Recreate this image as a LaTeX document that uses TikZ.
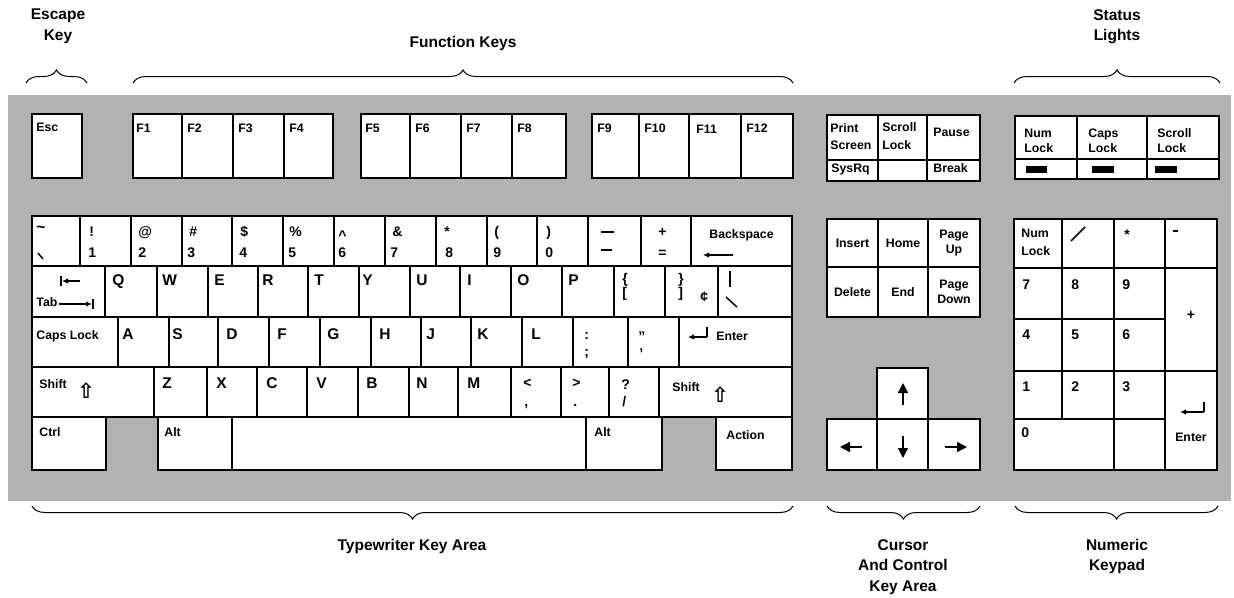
\documentclass[tikz,border=0pt]{standalone}
\usepackage{fontspec}
\setmainfont{Liberation Sans}
\newfontfamily\symf{DejaVu Sans}
\usetikzlibrary{fit,calc,arrows.meta,decorations.pathreplacing}
\newcounter{lblnum}
\newcommand\mkkey[5]{\node[key, fit={(#2,#3) (#4,#5)}] (#1) {};}
\newcommand\mklbl[5][lbls]{\stepcounter{lblnum}\node[#1, anchor=base west] (l\arabic{lblnum}) at ($(#2.north west)+(#3,#4)$) {#5};}
\newcommand\mkctr[4][lbls]{\stepcounter{lblnum}\node[#1, align=center] (l\arabic{lblnum}) at ($(#2.center)+(#3)$) {#4};}
\begin{document}
\begin{tikzpicture}[x=1pt,y=-1pt,
 key/.style={draw=black,line width=1.6pt,fill=white,inner sep=0pt},
 led/.style={fill=black,inner sep=0pt},
 lbls/.style={font=\bfseries\fontsize{12.3}{15}\selectfont,inner sep=0pt},
 lblm/.style={font=\bfseries\fontsize{14}{14}\selectfont,inner sep=0pt},
 lblb/.style={font=\bfseries\fontsize{15.5}{16}\selectfont,inner sep=0pt},
 shiftsym/.style={font=\symf\bfseries\fontsize{21}{21}\selectfont,inner sep=0pt},
 hdr/.style={font=\bfseries\fontsize{15.5}{20.5}\selectfont,align=center,inner sep=0pt},
 brc/.style={decorate,decoration={brace,amplitude=13pt},line width=1pt},
 glyph/.style={line width=1.5pt},
 arr/.style={line width=1.5pt,-{Latex[length=6pt,width=5.5pt]}},
 bigarr/.style={line width=1.4pt,-{Triangle[length=10pt,width=10pt]}},
]
\useasboundingbox (0,0) rectangle (1234,597);
\fill[white] (0,0) rectangle (1234,597);
\node[fill=black!30, inner sep=0pt, fit={(8,95) (1231,501)}] (frame) {};

% ---------- top row ----------
\mkkey{esc}{32}{114}{82}{178}
\mkkey{f1}{133}{114}{182}{178}\mkkey{f2}{182}{114}{233}{178}\mkkey{f3}{233}{114}{284}{178}\mkkey{f4}{284}{114}{333}{178}
\mkkey{f5}{361}{114}{410}{178}\mkkey{f6}{410}{114}{461}{178}\mkkey{f7}{461}{114}{512}{178}\mkkey{f8}{512}{114}{566}{178}
\mkkey{f9}{592}{114}{639}{178}\mkkey{f10}{639}{114}{689}{178}\mkkey{f11}{689}{114}{741}{178}\mkkey{f12}{741}{114}{793}{178}
\mklbl{esc}{5}{18}{Esc}
\mklbl{f1}{4}{19}{F1}\mklbl{f2}{6}{19}{F2}\mklbl{f3}{6}{19}{F3}\mklbl{f4}{6}{19}{F4}
\mklbl{f5}{5}{19}{F5}\mklbl{f6}{6}{19}{F6}\mklbl{f7}{6}{19}{F7}\mklbl{f8}{6}{19}{F8}
\mklbl{f9}{6}{19}{F9}\mklbl{f10}{6}{19}{F10}\mklbl{f11}{8}{20}{F11}\mklbl{f12}{6}{19}{F12}

% print screen block
\mkkey{prt}{827}{115}{878}{160}\mkkey{scr}{878}{115}{927}{160}\mkkey{pau}{927}{115}{980}{160}
\mkkey{sys}{827}{160}{878}{181}\mkkey{blk}{878}{160}{927}{181}\mkkey{brk}{927}{160}{980}{181}
\mklbl{prt}{4}{18}{Print}\mklbl{prt}{4}{35}{Screen}
\mklbl{scr}{5}{17}{Scroll}\mklbl{scr}{5}{35}{Lock}
\mklbl{pau}{7}{22}{Pause}
\mklbl{sys}{5}{13}{SysRq}\mklbl{brk}{7}{13}{Break}

% status lights
\mkkey{sl1}{1015}{116}{1077}{159}\mkkey{sl2}{1077}{116}{1147}{159}\mkkey{sl3}{1147}{116}{1219}{159}
\mkkey{sl4}{1015}{159}{1077}{179}\mkkey{sl5}{1077}{159}{1147}{179}\mkkey{sl6}{1147}{159}{1219}{179}
\mklbl{sl1}{10}{22}{Num}\mklbl{sl1}{10}{37}{Lock}
\mklbl{sl2}{12}{22}{Caps}\mklbl{sl2}{12}{37}{Lock}
\mklbl{sl3}{11}{22}{Scroll}\mklbl{sl3}{11}{37}{Lock}
\node[led, fit={(1026,166) (1047,173)}] (led1) {};
\node[led, fit={(1092,166) (1114,173)}] (led2) {};
\node[led, fit={(1155,166) (1177,173)}] (led3) {};

% ---------- row 1 ----------
\foreach \n/\a/\b in {r1a/32/80,r1b/80/131,r1c/131/182,r1d/182/232,r1e/232/283,r1f/283/334,r1g/334/385,r1h/385/436,r1i/436/487,r1j/487/537,r1k/537/588,r1l/588/641,r1m/641/691,r1n/691/792}
  {\mkkey{\n}{\a}{216}{\b}{266}}
\mklbl[lblb]{r1a}{5}{17}{\textasciitilde}
\draw[glyph] (38,253) -- (43,259);
\mklbl[lblm]{r1b}{10}{21}{!}\mklbl[lblm]{r1b}{9}{42}{1}
\mklbl[lblm]{r1c}{8}{21}{@}\mklbl[lblm]{r1c}{8}{42}{2}
\mklbl[lblm]{r1d}{8}{21}{\#}\mklbl[lblm]{r1d}{6}{42}{3}
\mklbl[lblm]{r1e}{9}{21}{\$}\mklbl[lblm]{r1e}{8}{42}{4}
\mklbl[lblm]{r1f}{7}{21}{\%}\mklbl[lblm]{r1f}{6}{42}{5}
\mklbl[lblm]{r1g}{5}{25}{\textasciicircum}\mklbl[lblm]{r1g}{5}{42}{6}
\mklbl[lblm]{r1h}{8}{21}{\&}\mklbl[lblm]{r1h}{6}{42}{7}
\mklbl[lblm]{r1i}{9}{21}{*}\mklbl[lblm]{r1i}{10}{42}{8}
\mklbl[lblm]{r1j}{8}{21}{(}\mklbl[lblm]{r1j}{7}{42}{9}
\mklbl[lblm]{r1k}{10}{21}{)}\mklbl[lblm]{r1k}{9}{42}{0}
\draw[glyph] (601,232) -- (614,232);
\draw[glyph] (601,250) -- (612,250);
\mklbl[lblm]{r1m}{18}{21}{+}\mklbl[lblm]{r1m}{18}{42}{=}
\mklbl{r1n}{19}{23}{Backspace}
\draw[arr] (733,255) -- (703,255);

% ---------- row 2 ----------
\foreach \n/\a/\b in {r2a/32/105,r2b/105/157,r2c/157/208,r2d/208/258,r2e/258/308,r2f/308/359,r2g/359/410,r2h/410/460,r2i/460/511,r2j/511/562,r2k/562/614,r2l/614/665,r2m/665/718,r2n/718/792}
  {\mkkey{\n}{\a}{266}{\b}{317}}
\draw[glyph] (61,276) -- (61,286);
\draw[arr] (80,281) -- (62,281);
\mklbl{r2a}{5}{41}{Tab}
\draw[arr] (59,304) -- (92,304);
\draw[glyph] (93,299) -- (93,309);
\mklbl[lblb]{r2b}{8}{20}{Q}\mklbl[lblb]{r2c}{6}{20}{W}\mklbl[lblb]{r2d}{7}{20}{E}
\mklbl[lblb]{r2e}{5}{20}{R}\mklbl[lblb]{r2f}{7}{20}{T}\mklbl[lblb]{r2g}{4}{20}{Y}
\mklbl[lblb]{r2h}{7}{20}{U}\mklbl[lblb]{r2i}{8}{20}{I}\mklbl[lblb]{r2j}{7}{20}{O}
\mklbl[lblb]{r2k}{7}{20}{P}
\mklbl[lblm]{r2l}{9}{18}{\{}\mklbl[lblm]{r2l}{9}{32}{[}
\mklbl[lblm]{r2m}{14}{18}{\}}\mklbl[lblm]{r2m}{14}{32}{]}\mklbl[lblm]{r2m}{36}{36}{¢}
\draw[glyph] (730,271) -- (730,287);
\draw[glyph] (726,297) -- (737,307);

% ---------- row 3 ----------
\foreach \n/\a/\b in {r3a/32/118,r3b/118/169,r3c/169/218,r3d/218/269,r3e/269/320,r3f/320/371,r3g/371/421,r3h/421/471,r3i/471/522,r3j/522/573,r3k/573/628,r3l/628/679,r3m/679/792}
  {\mkkey{\n}{\a}{317}{\b}{367}}
\mklbl{r3a}{5}{23}{Caps Lock}
\mklbl[lblb]{r3b}{5}{23}{A}\mklbl[lblb]{r3c}{4}{23}{S}\mklbl[lblb]{r3d}{9}{23}{D}
\mklbl[lblb]{r3e}{9}{23}{F}\mklbl[lblb]{r3f}{8}{23}{G}\mklbl[lblb]{r3g}{9}{23}{H}
\mklbl[lblb]{r3h}{6}{23}{J}\mklbl[lblb]{r3i}{7}{23}{K}\mklbl[lblb]{r3j}{10}{23}{L}
\mklbl[lblm]{r3k}{12}{23}{:}\mklbl[lblm]{r3k}{12}{40}{;}
\mklbl[lblm]{r3l}{11}{25}{"}\mklbl[lblm]{r3l}{12}{42}{'}
\draw[glyph] (707,327) -- (707,337);
\draw[arr] (707,337) -- (688,337);
\mklbl{r3m}{38}{24}{Enter}

% ---------- row 4 ----------
\foreach \n/\a/\b in {r4a/32/154,r4b/154/207,r4c/207/257,r4d/257/307,r4e/307/358,r4f/358/409,r4g/409/458,r4h/458/511,r4i/511/561,r4j/561/609,r4k/609/659,r4l/659/792}
  {\mkkey{\n}{\a}{367}{\b}{417}}
\mklbl{r4a}{8}{22}{Shift}
\mklbl[shiftsym]{r4a}{46}{32}{⇧}
\mklbl[lblb]{r4b}{9}{22}{Z}\mklbl[lblb]{r4c}{10}{22}{X}\mklbl[lblb]{r4d}{10}{22}{C}
\mklbl[lblb]{r4e}{10}{22}{V}\mklbl[lblb]{r4f}{9}{22}{B}\mklbl[lblb]{r4g}{8}{22}{N}
\mklbl[lblb]{r4h}{10}{22}{M}
\mklbl[lblm]{r4i}{13}{21}{<}\mklbl[lblm]{r4i}{14}{40}{,}
\mklbl[lblm]{r4j}{12}{21}{>}\mklbl[lblm]{r4j}{13}{40}{.}
\mklbl[lblm]{r4k}{13}{23}{?}\mklbl[lblm]{r4k}{14}{40}{/}
\mklbl{r4l}{14}{25}{Shift}
\mklbl[shiftsym]{r4l}{53}{36}{⇧}

% ---------- row 5 ----------
\mkkey{ctrl}{32}{417}{106}{470}
\mkkey{altl}{158}{417}{232}{470}
\mkkey{space}{232}{417}{586}{470}
\mkkey{altr}{586}{417}{662}{470}
\mkkey{action}{716}{417}{792}{470}
\mklbl{ctrl}{8}{20}{Ctrl}\mklbl{altl}{7}{20}{Alt}\mklbl{altr}{9}{20}{Alt}
\mklbl{action}{11}{23}{Action}

% ---------- cursor and control ----------
\mkkey{ins}{827}{219}{878}{267}\mkkey{home}{878}{219}{928}{267}\mkkey{pgup}{928}{219}{980}{267}
\mkkey{del}{827}{267}{878}{317}\mkkey{end}{878}{267}{928}{317}\mkkey{pgdn}{928}{267}{980}{317}
\mkctr{ins}{0,0}{Insert}\mkctr{home}{0,0}{Home}\mkctr{pgup}{0,0}{Page\\Up}
\mkctr{del}{0,0}{Delete}\mkctr{end}{0,0}{End}\mkctr{pgdn}{0,0}{Page\\Down}
\mkkey{up}{877}{368}{928}{419}
\mkkey{left}{827}{419}{877}{470}\mkkey{down}{877}{419}{928}{470}\mkkey{right}{928}{419}{980}{470}
\draw[bigarr] (903,405) -- (903,383);
\draw[bigarr] (862,447) -- (840,447);
\draw[bigarr] (903,436) -- (903,458);
\draw[bigarr] (945,447) -- (967,447);

% ---------- numeric keypad ----------
\mkkey{nl}{1014}{219}{1062}{268}\mkkey{nsl}{1062}{219}{1114}{268}\mkkey{nst}{1114}{219}{1165}{268}\mkkey{nmi}{1165}{219}{1217}{268}
\mkkey{n7}{1014}{268}{1062}{319}\mkkey{n8}{1062}{268}{1114}{319}\mkkey{n9}{1114}{268}{1165}{319}\mkkey{npl}{1165}{268}{1217}{371}
\mkkey{n4}{1014}{319}{1062}{371}\mkkey{n5}{1062}{319}{1114}{371}\mkkey{n6}{1114}{319}{1165}{371}
\mkkey{n1}{1014}{371}{1062}{419}\mkkey{n2}{1062}{371}{1114}{419}\mkkey{n3}{1114}{371}{1165}{419}\mkkey{nen}{1165}{371}{1217}{470}
\mkkey{n0}{1014}{419}{1114}{470}\mkkey{ndot}{1114}{419}{1165}{470}
\mklbl{nl}{8}{19}{Num}\mklbl{nl}{8}{37}{Lock}
\draw[glyph] (1071,241) -- (1085,227);
\mklbl[lblm]{nst}{11}{21}{*}
\draw[glyph] (1173,231) -- (1178,231);
\mklbl[lblm]{n7}{9}{22}{7}\mklbl[lblm]{n8}{10}{22}{8}\mklbl[lblm]{n9}{9}{22}{9}
\mkctr[lblm]{npl}{0,-4}{+}
\mklbl[lblm]{n4}{9}{21}{4}\mklbl[lblm]{n5}{10}{21}{5}\mklbl[lblm]{n6}{9}{21}{6}
\mklbl[lblm]{n1}{9}{21}{1}\mklbl[lblm]{n2}{10}{21}{2}\mklbl[lblm]{n3}{9}{21}{3}
\mklbl[lblm]{n0}{8}{19}{0}
\draw[glyph] (1204,402) -- (1204,412);
\draw[arr] (1204,412) -- (1180,412);
\mkctr{nen}{0,17}{Enter}

% ---------- braces and headings ----------
\draw[brc] (26,83) -- (87,83);
\draw[brc] (133,83) -- (793,83);
\draw[brc] (1014,83) -- (1220,83);
\draw[brc] (793,506) -- (32,506);
\draw[brc] (980,506) -- (827,506);
\draw[brc] (1218,506) -- (1015,506);
\node[hdr, anchor=north] (hesc) at (58,9) {Escape\\Key};
\node[hdr, anchor=north] (hfun) at (463,36) {Function Keys};
\node[hdr, anchor=north] (hsta) at (1117,9) {Status\\Lights};
\node[hdr, anchor=north] (htyp) at (412,539) {Typewriter Key Area};
\node[hdr, anchor=north] (hcur) at (903,539) {Cursor\\And Control\\Key Area};
\node[hdr, anchor=north] (hnum) at (1117,539) {Numeric\\Keypad};
\end{tikzpicture}
\end{document}
